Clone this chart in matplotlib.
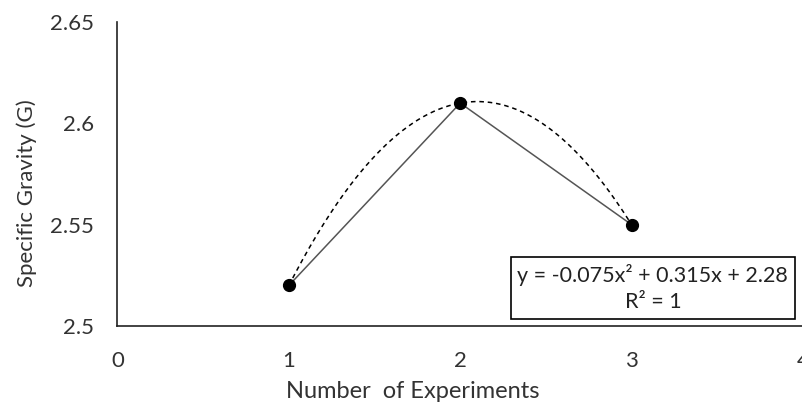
import matplotlib.pyplot as plt
import numpy as np

experiments = [1, 2, 3]
specific_gravity = [2.52, 2.61, 2.55]
x_ticks = [0, 1, 2, 3, 4]
y_ticks = [2.5, 2.55, 2.6, 2.65]
y_tick_labels = ["2.5", "2.55", "2.6", "2.65"]
equation = "y = -0.075x² + 0.315x + 2.28\nR² = 1"

plt.rcParams['font.family'] = ['Lato', 'DejaVu Sans']

fig = plt.figure(figsize=(8.03, 4.04), dpi=100)
ax = fig.add_axes([0.1463, 0.193, 0.8537, 0.7525])

# polynomial trendline (order 2)
coef = np.polyfit(experiments, specific_gravity, 2)
xs = np.linspace(min(experiments), max(experiments), 200)
ax.plot(xs, np.polyval(coef, xs), color='black', linestyle=(0, (3, 2.5)), linewidth=1.1)

ax.plot(experiments, specific_gravity, color='#555555', linewidth=1.1,
        marker='o', markersize=8.5, markerfacecolor='black', markeredgecolor='black')

ax.set_xlim(0, 4)
ax.set_ylim(2.5, 2.65)
ax.set_xticks(x_ticks)
ax.set_yticks(y_ticks)
ax.set_yticklabels(y_tick_labels)
ax.tick_params(length=0, labelsize=16, colors='#333333')
ax.tick_params(axis='x', pad=18)
ax.tick_params(axis='y', pad=17)

for side in ['top', 'right']:
    ax.spines[side].set_visible(False)
for side in ['left', 'bottom']:
    ax.spines[side].set_color('#222222')
    ax.spines[side].set_linewidth(1.2)

ax.set_xlabel("Number  of Experiments", fontsize=17, color='#333333')
ax.set_ylabel("Specific Gravity (G)", fontsize=16, color='#333333')
ax.xaxis.set_label_coords(0.431, -0.18)
ax.yaxis.set_label_coords(-0.118, 0.436)

ax.text(0.781, 0.125, equation, transform=ax.transAxes, ha='center', va='center',
        fontsize=15.5, color='#222222', linespacing=1.4,
        bbox=dict(boxstyle='square,pad=0.32', facecolor='white', edgecolor='black', linewidth=1.2))

fig.savefig("out.png", dpi=100)
